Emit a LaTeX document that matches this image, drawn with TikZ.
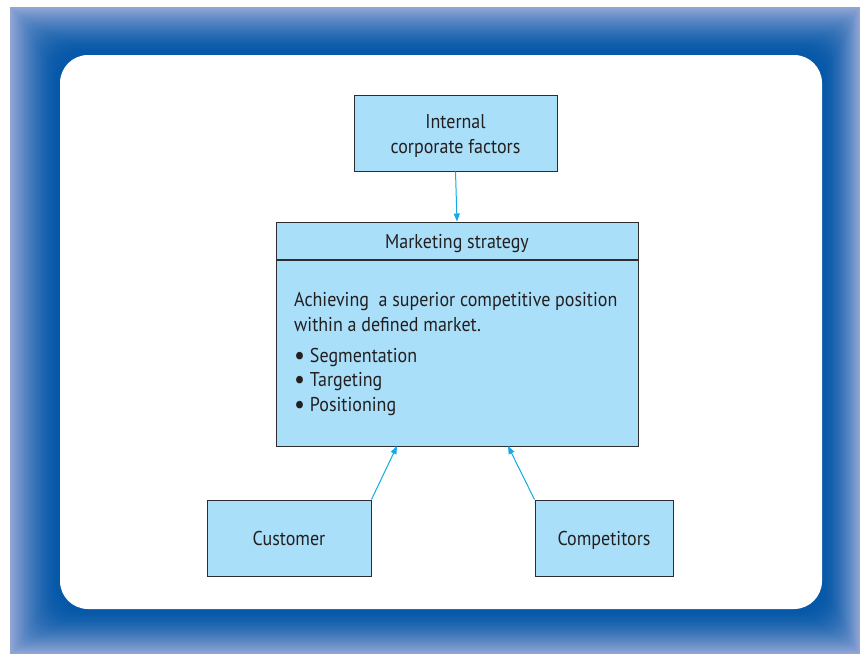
\documentclass[tikz,border=0pt]{standalone}
\usepackage{fontspec}
\setmainfont{PT Sans}[FakeStretch=0.9]
\usetikzlibrary{arrows.meta,calc}
\definecolor{framelight}{RGB}{146,166,214}
\definecolor{framedark}{RGB}{6,88,168}
\definecolor{boxfill}{RGB}{170,223,249}
\definecolor{arrowc}{RGB}{20,170,230}
\definecolor{edgec}{RGB}{45,45,45}
\definecolor{txt}{RGB}{35,31,32}
\newcommand{\bul}{\raisebox{-1.6pt}{\scalebox{1.35}{\textbullet}}}
\tikzset{
  box/.style={draw=edgec, line width=1pt, fill=boxfill, inner sep=0pt},
  lbl/.style={text=txt, inner sep=0pt, align=center, font=\fontsize{20}{25}\selectfont},
  link/.style={draw=arrowc, line width=1pt, -{Triangle[length=8pt,width=6pt]}},
}
\begin{document}
\begin{tikzpicture}[x=1pt,y=-1pt]
\useasboundingbox (0,0) rectangle (861,654);
\fill[white] (0,0) rectangle (861,654);
% gradient frame
\foreach \i in {0,...,40}{
  \pgfmathsetmacro{\t}{\i/40}
  \pgfmathsetmacro{\p}{100*(1-(1-\t)^1.5)}
  \colorlet{cc}{framedark!\p!framelight}
  \fill[cc, rounded corners=\i*0.7pt] (10+\t*48,7+\t*46) rectangle (860-\t*36,654-\t*43);
}
\fill[white, rounded corners=28pt] (60,55) rectangle (822,609);
% nodes
\node[box, minimum width=203pt, minimum height=76pt] (icf) at (455.5,133) {};
\node[lbl] (icft) at (455.5,136) {Internal\\corporate factors};
\node[box, minimum width=362pt, minimum height=37pt] (head) at (457,240.5) {};
\node[lbl] (headt) at (457,243) {\strut Marketing strategy};
\node[box, minimum width=362pt, minimum height=186pt, anchor=north] (body) at (head.south) {};
\node[lbl, anchor=north west, align=left] (btext) at (294,292) {Achieving\ \ a superior competitive position\\within a defined market.};
\node[lbl, anchor=north west, align=left, font=\fontsize{20}{24.5}\selectfont] (blist) at (294,348) {\bul\ Segmentation\\\bul\ Targeting\\\bul\ Positioning};
\node[box, minimum width=164pt, minimum height=76pt] (cust) at (289,538) {};
\node[lbl] (custt) at (289,540.5) {\strut Customer};
\node[box, minimum width=138pt, minimum height=76pt] (comp) at (604,538) {};
\node[lbl] (compt) at (604,540.5) {\strut Competitors};
\coordinate (c1) at (397,446);
\coordinate (c2) at (508,446);
\draw[link] (icf.south) -- (head.north);
\draw[link] (cust.north east) -- (c1);
\draw[link] (comp.north west) -- (c2);
\end{tikzpicture}
\end{document}
